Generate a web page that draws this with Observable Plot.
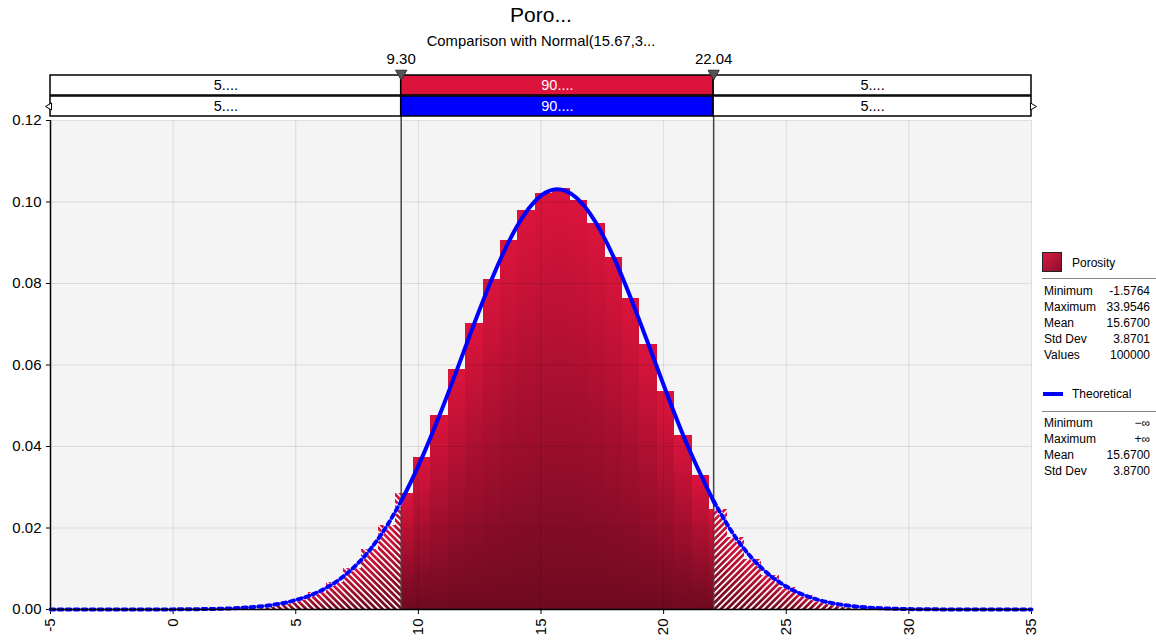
<!DOCTYPE html>
<html><head><meta charset="utf-8">
<script src="https://cdn.jsdelivr.net/npm/d3@7"></script>
<script src="https://cdn.jsdelivr.net/npm/@observablehq/plot@0.6"></script>
<style>
body{margin:0;background:#fff;font-family:"Liberation Sans",Arial,sans-serif;color:#000;}
#wrap{position:relative;width:1156px;height:643px;overflow:hidden;background:#fff;}
.abs{position:absolute;}
#title{left:0;width:1082px;top:3px;text-align:center;font-size:21px;line-height:24px;}
#subtitle{left:0;width:1082px;top:33px;text-align:center;font-size:14.8px;line-height:16px;}
#legend{left:1040px;top:240px;width:116px;font-size:12px;}
.row{position:absolute;left:4px;width:106px;height:16px;line-height:16px;}
.row .v{position:absolute;right:0;top:0;}
.sep{position:absolute;left:2px;width:114px;height:1px;background:#8a8a8a;}
</style>
</head><body>
<div id="wrap">
  <div id="title" class="abs">Poro...</div>
  <div id="subtitle" class="abs">Comparison with Normal(15.67,3...</div>
  <div id="topband" class="abs" style="left:0;top:48px;"></div>
  <div id="main" class="abs" style="left:0;top:110px;"></div>
  <div id="legend" class="abs"></div>
</div>
<script>
// ---------- data ----------
const histRange = [-1.5764, 33.9546];
const histDensity = [
  0.00001, 0.00002, 0.00004, 0.00008, 0.00015, 0.00028, 0.00050, 0.00090, 0.00157, 0.00262,
  0.00423, 0.00655, 0.00998, 0.01465, 0.02060, 0.02845, 0.03735, 0.04765, 0.05880, 0.07020,
  0.08110, 0.09065, 0.09790, 0.10210, 0.10320, 0.10040, 0.09480, 0.08640, 0.07620, 0.06500,
  0.05360, 0.04270, 0.03300, 0.02450, 0.01765, 0.01230, 0.00828, 0.00540, 0.00338, 0.00206,
  0.00121, 0.00069, 0.00038, 0.00020, 0.00010, 0.00005, 0.00003, 0.00001, 0.00001, 0.00001
];
const theoX = [-5,-4,-3,-2,-1,0,1,2,3,4,5,6,7,8,9,9.3,10,11,12,13,14,15,16,17,18,19,20,21,22,22.04,23,24,25,26,27,28,29,30,31,32,33,34,35];
const theoY = [0,0,0,0.000003,0.00001,0.00003,0.00008,0.0002,0.00048,0.00109,0.00231,0.00454,0.00838,0.01447,0.02335,0.0266,
  0.03526,0.04977,0.06572,0.08116,0.09379,0.10156,0.10272,0.09717,0.08597,0.07113,0.05508,0.03988,0.02702,0.0266,
  0.01712,0.01015,0.00563,0.00293,0.00142,0.00064,0.00027,0.00011,0.00004,0.00001,0,0,0];
const cutPoints = [9.30, 22.04];
const cutLabels = ["9.30", "22.04"];
const bandRows = ["Porosity", "Theoretical"];
const bandLabels = ["5....", "90....", "5...."];
const xDomain = [-5, 35];
const xTicks = [-5, 0, 5, 10, 15, 20, 25, 30, 35];
const yTicks = [0, 0.02, 0.04, 0.06, 0.08, 0.10, 0.12];
const statLabels = ["Minimum", "Maximum", "Mean", "Std Dev", "Values"];
const porosityStats = ["-1.5764", "33.9546", "15.6700", "3.8701", "100000"];
const theoStats = ["\u2212\u221E", "+\u221E", "15.6700", "3.8700"];

const FONT = '"Liberation Sans", Arial, sans-serif';
const RED = "#dc143c", BLUE = "#0000ff";

// ---------- histogram pieces ----------
const bw = (histRange[1] - histRange[0]) / histDensity.length;
const pieces = [];
histDensity.forEach((d, i) => {
  const a = histRange[0] + i * bw, b = a + bw;
  const edgesB = [a, ...cutPoints.filter(c => c > a && c < b), b];
  for (let j = 0; j < edgesB.length - 1; j++) {
    const x1 = edgesB[j], x2 = edgesB[j + 1], m = (x1 + x2) / 2;
    pieces.push({x1, x2, y: d, zone: m < cutPoints[0] ? "L" : m > cutPoints[1] ? "R" : "M"});
  }
});
const theo = theoX.map((x, i) => ({x, y: theoY[i]}));
const leftTail = theo.filter(d => d.x <= cutPoints[0]);
const midPart = theo.filter(d => d.x >= cutPoints[0] && d.x <= cutPoints[1]);
const rightTail = theo.filter(d => d.x >= cutPoints[1]);

// ---------- main plot ----------
const mainPlot = Plot.plot({
  width: 1156, height: 533,
  marginTop: 10, marginBottom: 34, marginLeft: 50, marginRight: 125,
  style: {fontFamily: FONT, fontSize: "15px", background: "transparent", overflow: "visible", color: "#000"},
  x: {domain: xDomain, ticks: xTicks, tickRotate: -90, tickSize: 5, tickFormat: d => String(d), label: null},
  y: {domain: [0, 0.12], ticks: yTicks, tickFormat: d3.format(".2f"), tickSize: 4, label: null},
  marks: [
    Plot.frame({fill: "#f4f4f4", stroke: "none"}),
    Plot.rectY(pieces, {x1: "x1", x2: "x2", y: "y", fill: "url(#barGrad)", shapeRendering: "crispEdges"}),
    Plot.rectY(pieces.filter(d => d.zone === "L"), {x1: "x1", x2: "x2", y: "y", fill: "url(#hatchL)", shapeRendering: "crispEdges"}),
    Plot.rectY(pieces.filter(d => d.zone === "R"), {x1: "x1", x2: "x2", y: "y", fill: "url(#hatchR)", shapeRendering: "crispEdges"}),
    Plot.gridX(xTicks, {stroke: "#000", strokeOpacity: 0.1}),
    Plot.gridY(yTicks, {stroke: "#000", strokeOpacity: 0.1}),
    Plot.ruleX(cutPoints, {stroke: "#444", strokeWidth: 1.5}),
    Plot.line(leftTail, {x: "x", y: "y", stroke: "#fff", strokeWidth: 4, curve: "monotone-x"}),
    Plot.line(leftTail, {x: "x", y: "y", stroke: BLUE, strokeWidth: 4, strokeDasharray: "4,4", curve: "monotone-x"}),
    Plot.line(rightTail, {x: "x", y: "y", stroke: "#fff", strokeWidth: 4, curve: "monotone-x"}),
    Plot.line(rightTail, {x: "x", y: "y", stroke: BLUE, strokeWidth: 4, strokeDasharray: "4,4", curve: "monotone-x"}),
    Plot.line(midPart, {x: "x", y: "y", stroke: BLUE, strokeWidth: 4, curve: "natural"}),
    Plot.ruleY([0], {stroke: "#000", strokeWidth: 1.5}),
    Plot.ruleX([xDomain[0]], {stroke: "#000", strokeWidth: 1.5})
  ]
});
const mainSvg = mainPlot.tagName.toLowerCase() === "svg" ? mainPlot : mainPlot.querySelector("svg");
const defs = d3.select(mainSvg).insert("defs", ":first-child");
defs.html(`
  <linearGradient id="barGrad" x1="0" y1="0" x2="0" y2="1">
    <stop offset="0" stop-color="#dc143c"/>
    <stop offset="1" stop-color="#6e0a20"/>
  </linearGradient>
  <pattern id="hatchL" patternUnits="userSpaceOnUse" width="4.5" height="4.5" patternTransform="rotate(-45)">
    <rect x="0" y="0" width="1.7" height="4.5" fill="#fff"/>
  </pattern>
  <pattern id="hatchR" patternUnits="userSpaceOnUse" width="4.5" height="4.5" patternTransform="rotate(45)">
    <rect x="0" y="0" width="1.7" height="4.5" fill="#fff"/>
  </pattern>
`);
document.getElementById("main").appendChild(mainPlot);

// ---------- top probability bands ----------
const bandEdges = [xDomain[0], ...cutPoints, xDomain[1]];
const segs = [];
bandRows.forEach((row, r) => {
  for (let i = 0; i < 3; i++) {
    segs.push({
      row, x1: bandEdges[i], x2: bandEdges[i + 1], label: bandLabels[i],
      fill: i === 1 ? (r === 0 ? RED : BLUE) : "#ffffff",
      ink: i === 1 ? "#ffffff" : "#000000"
    });
  }
});
const cuts = cutPoints.map((x, i) => ({x, label: cutLabels[i]}));
const bandPlot = Plot.plot({
  width: 1156, height: 72,
  marginTop: 27, marginBottom: 0, marginLeft: 50, marginRight: 125,
  style: {fontFamily: FONT, fontSize: "14px", background: "transparent", overflow: "visible", color: "#000"},
  x: {domain: xDomain, axis: null},
  y: {type: "band", domain: bandRows, range: [27, 68], paddingInner: 0.05, paddingOuter: 0, axis: null},
  color: {type: "identity"},
  marks: [
    Plot.ruleX(cutPoints, {stroke: "#444", strokeWidth: 1.5}),
    Plot.barX(segs, {x1: "x1", x2: "x2", y: "row", fill: "fill", stroke: "#000", strokeWidth: 1.5}),
    Plot.text(segs, {x: d => (d.x1 + d.x2) / 2, y: "row", text: "label", fill: "ink", fontSize: 14.5}),
    Plot.dot([xDomain[0]], {x: d => d, y: () => bandRows[1], symbol: "triangle", rotate: -90, r: 2.6, fill: "#fff", stroke: "#000", strokeWidth: 1, dx: -1}),
    Plot.dot([xDomain[1]], {x: d => d, y: () => bandRows[1], symbol: "triangle", rotate: 90, r: 2.6, fill: "#fff", stroke: "#000", strokeWidth: 1, dx: 1}),
    Plot.dot(cuts, {x: "x", frameAnchor: "top", dy: -2, symbol: "triangle", rotate: 180, r: 4.2, fill: "#555", stroke: "#333", strokeWidth: 1}),
    Plot.text(cuts, {x: "x", text: "label", frameAnchor: "top", lineAnchor: "middle", dy: -16, fontSize: 15, fill: "#000"})
  ]
});
document.getElementById("topband").appendChild(bandPlot);

// ---------- legend ----------
const lg = d3.select("#legend");
lg.append("div").style("position", "absolute").style("left", "2px").style("top", "12px")
  .style("width", "18px").style("height", "18px").style("border", "1.5px solid #222")
  .style("background", "linear-gradient(135deg,#d81a44,#8c0f2b)");
lg.append("div").attr("class", "row").style("left", "32px").style("top", "15px").text(bandRows[0]);
lg.append("div").attr("class", "sep").style("top", "38px");
statLabels.forEach((s, i) => {
  const r = lg.append("div").attr("class", "row").style("top", (43 + i * 16) + "px");
  r.append("span").text(s);
  r.append("span").attr("class", "v").text(porosityStats[i]);
});
lg.append("div").style("position", "absolute").style("left", "3px").style("top", "152px")
  .style("width", "20px").style("height", "4px").style("background", BLUE);
lg.append("div").attr("class", "row").style("left", "32px").style("top", "146px").text(bandRows[1]);
lg.append("div").attr("class", "sep").style("top", "171px");
theoStats.forEach((v, i) => {
  const r = lg.append("div").attr("class", "row").style("top", (175 + i * 16) + "px");
  r.append("span").text(statLabels[i]);
  r.append("span").attr("class", "v").text(v);
});
</script>
</body></html>
